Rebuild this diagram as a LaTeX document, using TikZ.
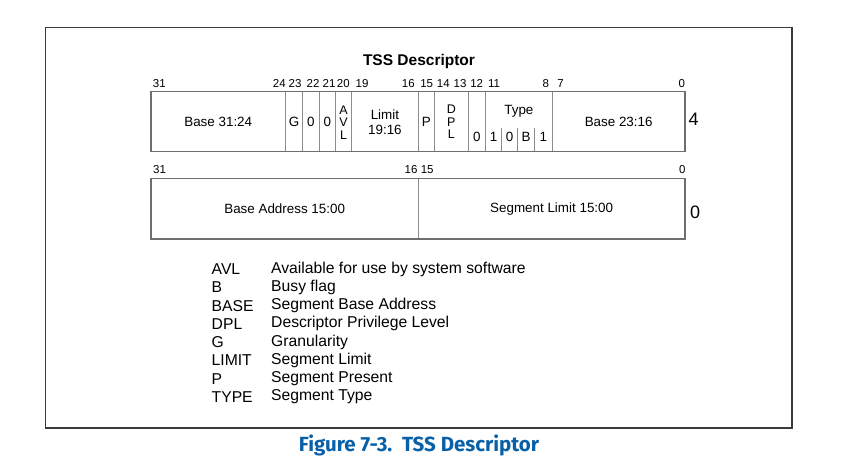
\documentclass[tikz,border=0pt]{standalone}
\usepackage{fontspec}
\setmainfont{Liberation Sans}
\newfontfamily\capfont{Fira Sans}
\definecolor{framecol}{HTML}{3A3A3A}
\definecolor{outercol}{HTML}{6E6E6E}
\definecolor{innercol}{HTML}{8C8C8C}
\definecolor{capblue}{RGB}{8,96,168}
\newcommand\cellfont{\fontsize{13.4}{15}\selectfont}
\newcommand\bitfont{\fontsize{11.5}{13}\selectfont}
\newcommand\legfont{\fontsize{15.7}{18}\selectfont}
\tikzset{
  fieldbox/.style={draw=innercol, line width=0.7pt, inner sep=0pt, minimum height=60pt, anchor=center, font=\cellfont},
  cellnum/.style={inner sep=0pt, font=\cellfont},
  stacked/.style={inner sep=0pt, align=center, font=\fontsize{12.5}{12.5}\selectfont},
  bitnum/.style={inner sep=0pt, font=\bitfont},
  rowoff/.style={inner sep=0pt, font=\fontsize{18}{20}\selectfont},
  legkey/.style={inner sep=0pt, anchor=west, font=\legfont},
  outerbox/.style={draw=outercol, line width=1.3pt},
  subline/.style={draw=innercol, line width=0.7pt}
}
\begin{document}
\begin{tikzpicture}[x=1pt,y=-1pt]
\useasboundingbox (0,0) rectangle (845,468);
% frame
\draw[framecol, line width=1.6pt] (45.5,27.7) rectangle (792,428);
% title
\node[inner sep=0pt, font=\fontsize{15.5}{17}\selectfont\bfseries] (title) at (419,61.5) {TSS Descriptor};
% ---------- row 1 (offset 4) ----------
\node[fieldbox, minimum width=134.5pt] (base3124) at (218.25,121.7) {Base 31:24};
\node[fieldbox, minimum width=17pt] (g) at (294,121.7) {G};
\node[fieldbox, minimum width=16.5pt] (zb22) at (310.75,121.7) {0};
\node[fieldbox, minimum width=16.5pt] (zb21) at (327.25,121.7) {0};
\node[fieldbox, minimum width=16pt] (avl) at (343.5,121.7) {};
\node[fieldbox, minimum width=66.8pt] (lim) at (384.9,121.7) {};
\node[fieldbox, minimum width=16.2pt] (p) at (426.4,121.7) {P};
\node[fieldbox, minimum width=33.8pt] (dpl) at (451.4,121.7) {};
\node[fieldbox, minimum width=17.2pt] (zb12) at (476.9,121.7) {};
\node[fieldbox, minimum width=66.8pt] (type) at (518.9,121.7) {};
\node[fieldbox, minimum width=132.7pt] (base2316) at (618.65,121.7) {Base 23:16};
\node[stacked] (avlt) at (343.5,122.5) {A\\V\\L};
\node[cellnum, align=center, font=\fontsize{13.4}{15}\selectfont] (limt) at (384.9,122.5) {Limit\\19:16};
\node[stacked] (dplt) at (451.4,121.8) {D\\P\\L};
\node[cellnum] (zb12t) at (476.9,137.3) {0};
\node[cellnum] (typet) at (518.9,111.7) {Type};
\node[cellnum] (t11) at (493.5,137.3) {1};
\node[cellnum] (t10) at (509.6,137.3) {0};
\node[cellnum] (t9) at (526,137.3) {B};
\node[cellnum] (t8) at (543.3,137.3) {1};
\draw[subline] (501.5,127.7) -- (501.5,151.7);
\draw[subline] (517.7,127.7) -- (517.7,151.7);
\draw[subline] (534.3,127.7) -- (534.3,151.7);
\draw[outerbox] (151,91.7) rectangle (685,151.7);
% bit numbers row 1
\node[bitnum] (r1b31) at (159.3,83.3) {31};
\node[bitnum] (r1b24) at (279.3,83.3) {24};
\node[bitnum] (r1b23) at (295,83.3) {23};
\node[bitnum] (r1b22) at (313,83.3) {22};
\node[bitnum] (r1b21) at (329,83.3) {21};
\node[bitnum] (r1b20) at (343.3,83.3) {20};
\node[bitnum] (r1b19) at (362,83.3) {19};
\node[bitnum] (r1b16) at (408.3,83.3) {16};
\node[bitnum] (r1b15) at (426.7,83.3) {15};
\node[bitnum] (r1b14) at (443.3,83.3) {14};
\node[bitnum] (r1b13) at (460,83.3) {13};
\node[bitnum] (r1b12) at (476.7,83.3) {12};
\node[bitnum] (r1b11) at (494,83.3) {11};
\node[bitnum] (r1b8) at (545.7,83.3) {8};
\node[bitnum] (r1b7) at (560.5,83.3) {7};
\node[bitnum] (r1b0) at (681.7,83.3) {0};
\node[rowoff] (off4) at (693.5,119) {4};
% ---------- row 2 (offset 0) ----------
\node[fieldbox, minimum width=267.3pt, minimum height=60.7pt] (baseaddr) at (284.65,208.65) {Base Address 15:00};
\node[fieldbox, minimum width=266.7pt, minimum height=60.7pt] (seglim) at (551.65,208.65) {Segment Limit 15:00};
\draw[outerbox] (151,178.3) rectangle (685,239);
\node[bitnum] (r2b31) at (159.5,170) {31};
\node[bitnum] (r2b16) at (411,170) {16};
\node[bitnum] (r2b15) at (427.2,170) {15};
\node[bitnum] (r2b0) at (682.2,170) {0};
\node[rowoff] (off0) at (695,212) {0};
% ---------- legend ----------
\foreach \k/\d [count=\i from 0] in {AVL/Available for use by system software, B/Busy flag, BASE/Segment Base Address, DPL/Descriptor Privilege Level, G/Granularity, LIMIT/Segment Limit, P/Segment Present, TYPE/Segment Type}{
  \node[legkey] (key\i) at (211.5,{269+18.3*\i}) {\k};
  \node[legkey] (desc\i) at (271,{269+18.3*\i}) {\d};
}
% caption
\node[inner sep=0pt, text=capblue, font=\capfont\fontsize{20.5}{22}\selectfont\bfseries] (caption) at (419,445.5) {Figure 7-3.\ \ TSS Descriptor};
\end{tikzpicture}
\end{document}
